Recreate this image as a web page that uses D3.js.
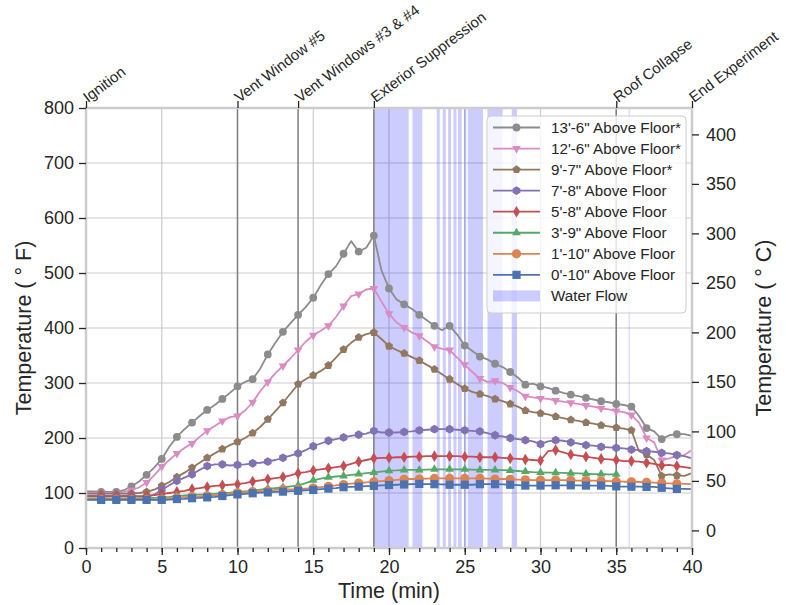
<!DOCTYPE html>
<html>
<head>
<meta charset="utf-8">
<script src="https://cdn.jsdelivr.net/npm/d3@7/dist/d3.min.js"></script>
<style>
  html, body { margin: 0; padding: 0; background: #ffffff; }
  svg { display: block; font-family: "Liberation Sans", Arial, sans-serif; }
</style>
</head>
<body>
<svg id="chart" width="786" height="605"></svg>
<script>
// Sample times (min), one reading every half minute
const minutes = d3.range(0, 40.5, 0.5);

// Thermocouple readings (°F) at each sample time
const tc13ft6in = [
  103,103,102,102,102,105,112,121,133,146,
  162,184,202,216,228,240,251,260,271,282,
  294,302,307,326,352,373,393,409,424,438,
  455,478,498,512,535,558,539,546,568,505,
  472,452,443,435,424,414,404,396,404,388,
  368,358,348,343,335,329,320,310,297,299,
  294,291,286,282,279,276,273,270,267,265,
  262,260,257,240,218,212,198,205,207,207,
  204];
const tc12ft6in = [
  100,100,100,100,100,102,105,110,119,132,
  148,160,172,182,190,202,213,222,231,238,
  240,250,265,285,302,318,331,345,360,375,
  387,395,404,420,440,458,462,470,472,448,
  426,410,401,392,386,376,366,362,360,346,
  333,320,308,302,304,300,292,285,276,274,
  272,271,268,266,264,262,259,257,254,252,
  249,247,242,228,200,192,160,163,168,169,
  178];
const tc9ft7in = [
  99,99,99,99,99,99,99,100,102,106,
  113,120,129,137,146,155,164,172,180,187,
  193,200,209,220,234,249,264,281,298,307,
  314,322,332,346,361,373,383,389,392,380,
  367,360,354,347,341,333,325,316,307,298,
  290,284,280,276,271,267,262,257,250,247,
  245,243,239,236,233,231,228,226,223,221,
  219,217,214,176,170,160,131,134,132,131,
  136];
const tc7ft8in = [
  95,95,95,95,95,95,95,94,93,97,
  106,114,122,128,134,142,149,152,152,150,
  151,152,154,155,157,160,164,168,172,178,
  185,190,195,198,201,204,206,208,213,210,
  210,210,211,212,214,215,216,216,216,215,
  214,213,212,209,205,203,200,198,196,194,
  189,194,196,195,192,190,187,186,184,183,
  182,181,179,178,176,175,173,172,169,167,
  163];
const tc5ft8in = [
  94,94,94,94,94,94,94,94,95,96,
  98,100,102,104,107,109,111,113,114,115,
  116,118,121,123,125,127,129,132,136,138,
  141,143,145,147,149,153,157,160,163,164,
  164,165,165,166,166,167,167,167,167,167,
  166,166,165,165,165,164,163,162,161,160,
  159,176,178,174,170,168,166,164,162,161,
  160,158,158,157,155,153,150,151,149,147,
  145];
const tc3ft9in = [
  90,90,90,90,90,90,90,90,90,91,
  92,93,94.5,95.5,96.5,97,97.5,98.5,99.5,100.5,
  102,103,104,106,108,109,110,112,114,118,
  123,126,128.5,130,131,133,134.5,136,137.5,139,
  140.5,141,142,142,142,142.5,143,143,143,143,
  143,142.5,142,142,142,141.5,141,140,139,138,
  137.5,137,137,136.5,136,135.5,135,134.5,134.5,134,
  134,null,null,null,null,null,null,null,null,null,
  null];
const tc1ft10in = [
  88.5,88.5,88.5,88.5,88.5,88.5,88.5,88.5,88.5,88.5,
  88.5,90,91.5,92.5,93.5,94,95,96,97,99,
  100.5,101.5,102.5,103.5,104,105.5,106.5,106.5,107,108,
  109,110.5,112,114,115.5,117,118,119.5,120.5,121.5,
  122.5,124,125,125.5,125.5,126,126.5,126.5,126.5,126.5,
  126.5,126.5,126.5,126,125.5,125.5,125,124.5,124,123.5,
  123.5,123.5,123.5,123.5,123,122.5,122.5,122.5,122,121.5,
  121,120.5,120.5,120,119.5,119,118,117.5,117,116.5,
  116];
const tc0ft10in = [
  87.5,87.5,87.5,87.5,87.5,87.5,87.5,87.5,87.5,87.5,
  87.5,88,89,89.5,90.5,91,92,93,94.5,96,
  97.5,98.5,99.5,100.5,101,102,102.5,103.5,104,105,
  105.5,107,108,109,110.5,111,111.5,112.5,113,114,
  114.5,115,115.5,116,116.5,116,116,115.5,115,115,
  115,115,116,116,116,115.5,115,114.5,113.5,113.5,
  113.5,113.5,114,114,114,114,113.5,113.5,113.5,113,
  112,111.5,111.5,111.5,111,111,109.5,108.5,107.5,107.5,
  107];

// Sensor labels, in legend order
const sensorLabels = [
  "13'-6\" Above Floor*", "12'-6\" Above Floor*", "9'-7\" Above Floor*",
  "7'-8\" Above Floor", "5'-8\" Above Floor", "3'-9\" Above Floor",
  "1'-10\" Above Floor", "0'-10\" Above Floor"];
const sensorValues = [tc13ft6in, tc12ft6in, tc9ft7in, tc7ft8in, tc5ft8in, tc3ft9in, tc1ft10in, tc0ft10in];

// Periods with hose stream flowing (start, end in min)
const waterFlowStart = [19.0, 21.55, 23.15, 23.55, 23.9, 24.25, 24.55, 24.95, 25.2, 26.5, 28.1, 35.82];
const waterFlowEnd   = [21.3, 22.2, 23.35, 23.75, 24.1, 24.45, 24.8, 25.1, 26.2, 27.5, 28.45, 35.88];

// Timeline events
const eventNames = ["Ignition", "Vent Window #5", "Vent Windows #3 & #4", "Exterior Suppression", "Roof Collapse", "End Experiment"];
const eventTimes = [0, 10, 14, 19, 35, 40];

// Axis ticks
const timeTicks = d3.range(0, 41, 5);
const timeMinorTicks = d3.range(0, 41, 1);
const fahrenheitTicks = d3.range(0, 801, 100);
const celsiusTicks = d3.range(0, 401, 50);

(function drawChart() {
  const colors = ["#8c8c8c", "#da8bc3", "#937860", "#8172b3", "#c44e52", "#55a868", "#dd8452", "#4c72b0"];
  const markerKinds = ["circle", "triDown", "pentagon", "hexagon", "thinDiamond", "triUp", "circleBig", "square"];
  const textColor = "#262626";
  const gridColor = "#cccccc";

  const svg = d3.select("#chart");
  const plotLeft = 86, plotRight = 692, plotTop = 108, plotBottom = 548;

  const x = d3.scaleLinear().domain([0, 40]).range([plotLeft, plotRight]);
  const yF = d3.scaleLinear().domain([0, 800]).range([plotBottom, plotTop]);
  const yC = d3.scaleLinear().domain([(0 - 32) / 1.8, (800 - 32) / 1.8]).range([plotBottom, plotTop]);

  // marker shapes; the symbol "size" is used as a radius in px
  function polygonType(n, rot) {
    return { draw(ctx, r) {
      for (let k = 0; k < n; k++) {
        const a = rot + k * 2 * Math.PI / n;
        const px = r * Math.cos(a), py = r * Math.sin(a);
        if (k === 0) ctx.moveTo(px, py); else ctx.lineTo(px, py);
      }
      ctx.closePath();
    }};
  }
  const circleType = { draw(ctx, r) { ctx.moveTo(r, 0); ctx.arc(0, 0, r, 0, 2 * Math.PI); } };
  const squareType = { draw(ctx, r) { ctx.rect(-r, -r, 2 * r, 2 * r); } };
  const thinDiamondType = { draw(ctx, r) {
    ctx.moveTo(0, -r); ctx.lineTo(r * 0.6, 0); ctx.lineTo(0, r); ctx.lineTo(-r * 0.6, 0); ctx.closePath();
  }};
  const markerDefs = {
    circle:      { type: circleType, r: 3.9 },
    triDown:     { type: polygonType(3, Math.PI / 2), r: 5 },
    pentagon:    { type: polygonType(5, -Math.PI / 2), r: 4.3 },
    hexagon:     { type: polygonType(6, -Math.PI / 2), r: 4.4 },
    thinDiamond: { type: thinDiamondType, r: 5.8 },
    triUp:       { type: polygonType(3, -Math.PI / 2), r: 5 },
    circleBig:   { type: circleType, r: 4.6 },
    square:      { type: squareType, r: 4.1 }
  };
  const markerPath = kind => d3.symbol().type(markerDefs[kind].type).size(markerDefs[kind].r)();

  // grid
  const grid = svg.append("g");
  grid.selectAll(".gx").data(timeTicks).join("line")
    .attr("x1", d => x(d)).attr("x2", d => x(d)).attr("y1", plotTop).attr("y2", plotBottom)
    .attr("stroke", gridColor).attr("stroke-width", 1.2);
  grid.selectAll(".gy").data(fahrenheitTicks).join("line")
    .attr("x1", plotLeft).attr("x2", plotRight).attr("y1", d => yF(d)).attr("y2", d => yF(d))
    .attr("stroke", gridColor).attr("stroke-width", 1.2);

  // water flow bands
  svg.append("g").selectAll("rect").data(waterFlowStart.map((s, i) => [s, waterFlowEnd[i]])).join("rect")
    .attr("x", d => x(d[0])).attr("width", d => Math.max(1, x(d[1]) - x(d[0])))
    .attr("y", plotTop).attr("height", plotBottom - plotTop)
    .attr("fill", "blue").attr("fill-opacity", 0.2);

  // event lines
  svg.append("g").selectAll("line").data(eventTimes).join("line")
    .attr("x1", d => x(d)).attr("x2", d => x(d)).attr("y1", plotTop).attr("y2", plotBottom)
    .attr("stroke", "#7f7f7f").attr("stroke-width", 1.5);

  // temperature series
  const line = d3.line()
    .defined(d => d[1] != null)
    .x(d => x(d[0])).y(d => yF(d[1]));

  sensorValues.forEach((vals, s) => {
    const pts = minutes.map((t, i) => [t, vals[i]]);
    const g = svg.append("g");
    g.append("path").datum(pts).attr("d", line)
      .attr("fill", "none").attr("stroke", colors[s]).attr("stroke-width", 1.8)
      .attr("stroke-linejoin", "round");
    const marks = pts.filter((d, i) => i % 2 === 0 && i > 0 && i < pts.length - 1 && d[1] != null);
    g.selectAll("path.m").data(marks).join("path")
      .attr("class", "m")
      .attr("transform", d => `translate(${x(d[0])},${yF(d[1])})`)
      .attr("d", markerPath(markerKinds[s]))
      .attr("fill", colors[s]);
  });

  // frame
  svg.append("rect").attr("x", plotLeft).attr("y", plotTop)
    .attr("width", plotRight - plotLeft).attr("height", plotBottom - plotTop)
    .attr("fill", "none").attr("stroke", gridColor).attr("stroke-width", 2.5);

  // axes
  function styleAxis(g) {
    g.select(".domain").remove();
    g.selectAll(".tick line").attr("stroke", textColor).attr("stroke-width", 1.3);
    g.selectAll(".tick text").attr("fill", textColor).attr("font-size", 18)
      .attr("font-family", "'Liberation Sans', Arial, sans-serif");
  }
  svg.append("g").attr("transform", `translate(0,${plotBottom})`)
    .call(d3.axisBottom(x).tickValues(timeMinorTicks).tickSize(4).tickFormat(""))
    .call(styleAxis);
  svg.append("g").attr("transform", `translate(0,${plotBottom})`)
    .call(d3.axisBottom(x).tickValues(timeTicks).tickSize(7).tickPadding(5).tickFormat(d3.format("d")))
    .call(styleAxis);
  svg.append("g").attr("transform", `translate(${plotLeft},0)`)
    .call(d3.axisLeft(yF).tickValues(fahrenheitTicks).tickSize(7).tickPadding(5).tickFormat(d3.format("d")))
    .call(styleAxis);
  svg.append("g").attr("transform", `translate(${plotRight},0)`)
    .call(d3.axisRight(yC).tickValues(celsiusTicks).tickSize(7).tickPadding(7).tickFormat(d3.format("d")))
    .call(styleAxis);
  svg.append("g").attr("transform", `translate(0,${plotTop})`)
    .call(d3.axisTop(x).tickValues(eventTimes).tickSize(7).tickFormat(""))
    .call(styleAxis);

  // event labels
  svg.append("g").selectAll("text").data(eventNames).join("text")
    .attr("transform", (d, i) => `translate(${x(eventTimes[i]) + 2},${plotTop - 5}) rotate(-37)`)
    .attr("font-size", 15).attr("fill", textColor)
    .text(d => d);

  // axis titles
  const midY = (plotTop + plotBottom) / 2;
  svg.append("text").attr("x", (plotLeft + plotRight) / 2).attr("y", 598)
    .attr("text-anchor", "middle").attr("font-size", 21.5).attr("fill", textColor)
    .text("Time (min)");
  svg.append("text").attr("transform", `translate(31,${midY}) rotate(-90)`)
    .attr("text-anchor", "middle").attr("font-size", 21.5).attr("fill", textColor)
    .text("Temperature ( ° F)");
  svg.append("text").attr("transform", `translate(771,${midY}) rotate(-90)`)
    .attr("text-anchor", "middle").attr("font-size", 21.5).attr("fill", textColor)
    .text("Temperature ( ° C)");

  // legend
  const lg = svg.append("g").attr("transform", "translate(487,116)");
  lg.append("rect").attr("width", 199).attr("height", 197).attr("rx", 4)
    .attr("fill", "#ffffff").attr("fill-opacity", 0.8)
    .attr("stroke", gridColor).attr("stroke-width", 1);
  const rowY = i => 11.5 + i * 21.05;
  sensorLabels.forEach((name, s) => {
    const row = lg.append("g").attr("transform", `translate(0,${rowY(s)})`);
    row.append("line").attr("x1", 6).attr("x2", 53).attr("stroke", colors[s]).attr("stroke-width", 1.8);
    row.append("path").attr("transform", "translate(29.5,0)").attr("d", markerPath(markerKinds[s])).attr("fill", colors[s]);
    row.append("text").attr("x", 64).attr("dy", "0.36em").attr("font-size", 15.2).attr("fill", textColor).text(name);
  });
  const wf = lg.append("g").attr("transform", `translate(0,${rowY(8)})`);
  wf.append("rect").attr("x", 6).attr("y", -5.5).attr("width", 47).attr("height", 11)
    .attr("fill", "blue").attr("fill-opacity", 0.2);
  wf.append("text").attr("x", 64).attr("dy", "0.36em").attr("font-size", 15.2).attr("fill", textColor).text("Water Flow");
})();
</script>
</body>
</html>
